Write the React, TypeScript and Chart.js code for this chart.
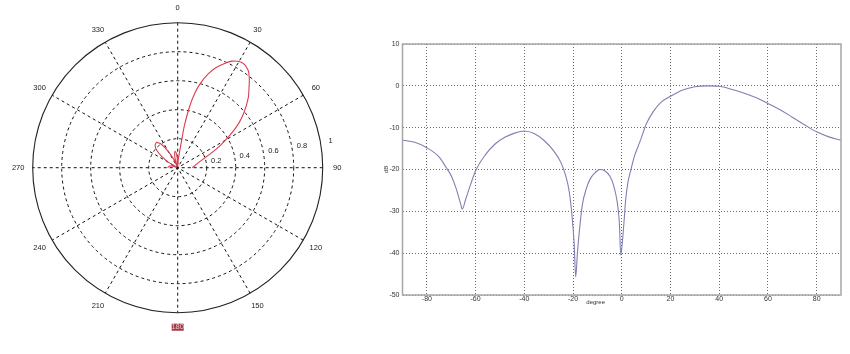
import React, { useEffect, useRef } from "react";
import { Chart, registerables } from "chart.js";

Chart.register(...registerables);

// ---------- Polar plot data (angle in degrees clockwise from top, linear radius) ----------
const polarAngles = [
  -90, -80, -72, -66, -60, -55, -50, -45, -40, -35, -30, -25, -20, -16, -12, -9, -6, -3, 0, 3, 5, 7, 9,
  11, 13, 15, 18, 21, 24, 27, 30, 33, 36, 39, 42, 45, 48, 51, 54, 57, 60, 63, 66, 70, 75, 80, 85, 90,
];
const polarRadii = [
  0.07, 0.06, 0.04, 0.01, 0.07, 0.135, 0.19, 0.22, 0.228, 0.2, 0.13, 0.06, 0.01, 0.07, 0.1, 0.115, 0.105, 0.07,
  0.01, 0.04, 0.07, 0.12, 0.29, 0.43, 0.53, 0.6, 0.68, 0.74, 0.785, 0.825, 0.845, 0.848, 0.828, 0.785, 0.735,
  0.69, 0.635, 0.58, 0.52, 0.45, 0.38, 0.32, 0.26, 0.2, 0.155, 0.13, 0.115, 0.1,
];
const polarRings = [0.2, 0.4, 0.6, 0.8, 1];
const polarRingLabels = ["0.2", "0.4", "0.6", "0.8", "1"];
const polarSpokeAngles = [0, 30, 60, 90, 120, 150, 180, 210, 240, 270, 300, 330];
const polarSpokeLabels = ["0", "30", "60", "90", "120", "150", "180", "210", "240", "270", "300", "330"];

// ---------- Rectangular plot data (degrees vs dB) ----------
const patternDegrees = [
  -90, -85, -80, -75, -72, -70, -68, -66, -65.5, -64, -62, -60, -56, -52, -48, -44, -40, -36, -32, -28, -25,
  -23, -21.5, -20.5, -19.5, -18.9, -18.2, -17.5, -16.2, -14.5, -13, -11, -9, -7, -5, -3.5, -2, -1, -0.4, 0.3, 1,
  1.6, 2.5, 3.7, 5, 6.5, 8, 10, 13, 16, 20, 25, 30, 35, 40, 45, 50, 55, 60, 65, 70, 75, 80, 85, 90,
];
const patternDb = [
  -13.0, -13.5, -14.8, -17.0, -19.6, -21.5, -24.5, -28.5, -29.5, -27.0, -23.5, -20.3, -16.5, -13.9, -12.3, -11.3,
  -10.8, -11.4, -13.0, -15.5, -18.3, -21.5, -25.5, -30.5, -38.0, -45.7, -40.0, -35.3, -28.5, -24.5, -22.3, -20.8,
  -20.0, -20.3, -21.5, -23.5, -27.3, -32.5, -40.5, -37.0, -32.0, -27.3, -23.2, -20.2, -17.2, -14.8, -12.5, -9.2,
  -6.1, -4.0, -2.5, -1.0, -0.2, 0.0, -0.1, -0.8, -1.7, -2.8, -4.2, -5.7, -7.5, -9.3, -11.0, -12.2, -13.0,
];
const xTicks = [-80, -60, -40, -20, 0, 20, 40, 60, 80];
const yTicks = [-50, -40, -30, -20, -10, 0, 10];
const xTitle = "degree";
const yTitle = "dB";

const FONT = "'Liberation Sans', Arial, sans-serif";

const polarGridPlugin = {
  id: "polarGrid",
  beforeDatasetsDraw(chart: any) {
    const ctx = chart.ctx;
    const xs = chart.scales.x;
    const ys = chart.scales.y;
    const px = (a: number, r: number) => xs.getPixelForValue(r * Math.sin((a * Math.PI) / 180));
    const py = (a: number, r: number) => ys.getPixelForValue(r * Math.cos((a * Math.PI) / 180));
    const cx = xs.getPixelForValue(0);
    const cy = ys.getPixelForValue(0);
    const R = xs.getPixelForValue(1) - cx;
    ctx.save();
    ctx.strokeStyle = "#111";
    ctx.lineWidth = 1;
    ctx.setLineDash([3, 3]);
    polarRings.forEach((r) => {
      if (r >= 1) return;
      ctx.beginPath();
      ctx.arc(cx, cy, R * r, 0, Math.PI * 2);
      ctx.stroke();
    });
    polarSpokeAngles.forEach((a) => {
      if (a >= 180) return;
      ctx.beginPath();
      ctx.moveTo(px(a, 1), py(a, 1));
      ctx.lineTo(px(a + 180, 1), py(a + 180, 1));
      ctx.stroke();
    });
    ctx.setLineDash([]);
    ctx.strokeStyle = "#222";
    ctx.lineWidth = 1.1;
    ctx.beginPath();
    ctx.arc(cx, cy, R, 0, Math.PI * 2);
    ctx.stroke();
    ctx.font = `7.5px ${FONT}`;
    ctx.textAlign = "center";
    ctx.textBaseline = "middle";
    polarSpokeAngles.forEach((a, i) => {
      const x = px(a, 1.1);
      const y = py(a, 1.1);
      if (polarSpokeLabels[i] === "180") {
        ctx.fillStyle = "#a4323f";
        ctx.fillRect(x - 6, y - 3.5, 12, 7);
        ctx.fillStyle = "#f0c8cc";
      } else {
        ctx.fillStyle = "#222";
      }
      ctx.fillText(polarSpokeLabels[i], x, y);
    });
    ctx.fillStyle = "#222";
    polarRings.forEach((r, i) => {
      ctx.fillText(polarRingLabels[i], px(80, r + 0.07), py(80, r + 0.07));
    });
    ctx.restore();
  },
};

const rectFramePlugin = {
  id: "rectFrame",
  afterDraw(chart: any) {
    const ctx = chart.ctx;
    const a = chart.chartArea;
    const xs = chart.scales.x;
    ctx.save();
    ctx.strokeStyle = "#a6a6a6";
    ctx.lineWidth = 1.5;
    ctx.strokeRect(a.left, a.top, a.right - a.left, a.bottom - a.top);
    ctx.fillStyle = "#333";
    ctx.font = `6px ${FONT}`;
    ctx.textAlign = "center";
    ctx.textBaseline = "middle";
    ctx.fillText(xTitle, xs.getPixelForValue(-10.7), a.bottom + 7);
    ctx.restore();
  },
};

function PolarChart() {
  const ref = useRef<HTMLCanvasElement>(null);
  useEffect(() => {
    const cxPix = 177.7;
    const cyPix = 167.7;
    const R = 145;
    const W = 355;
    const H = 354;
    const chart = new Chart(ref.current as HTMLCanvasElement, {
      type: "scatter",
      data: {
        datasets: [
          {
            data: polarAngles.map((a, i) => ({
              x: polarRadii[i] * Math.sin((a * Math.PI) / 180),
              y: polarRadii[i] * Math.cos((a * Math.PI) / 180),
            })),
            showLine: true,
            borderColor: "#dc3c4e",
            borderWidth: 1.1,
            pointRadius: 0,
            tension: 0.15,
            fill: false,
          },
        ],
      },
      options: {
        responsive: false,
        animation: false,
        devicePixelRatio: 1,
        layout: { padding: 0 },
        plugins: { legend: { display: false }, tooltip: { enabled: false } },
        scales: {
          x: { type: "linear", display: false, min: -cxPix / R, max: (W - cxPix) / R },
          y: { type: "linear", display: false, min: -(H - cyPix) / R, max: cyPix / R },
        },
      },
      plugins: [polarGridPlugin],
    });
    return () => chart.destroy();
  }, []);
  return (
    <canvas
      ref={ref}
      width={355}
      height={354}
      style={{ position: "absolute", left: 0, top: 0, width: 355, height: 354 }}
    />
  );
}

function RectChart() {
  const ref = useRef<HTMLCanvasElement>(null);
  useEffect(() => {
    const chart = new Chart(ref.current as HTMLCanvasElement, {
      type: "scatter",
      data: {
        datasets: [
          {
            data: patternDegrees.map((d, i) => ({ x: d, y: patternDb[i] })),
            showLine: true,
            borderColor: "#7f7fb3",
            borderWidth: 1.1,
            pointRadius: 0,
            cubicInterpolationMode: "monotone",
            fill: false,
          },
        ],
      },
      options: {
        responsive: false,
        animation: false,
        devicePixelRatio: 1,
        layout: { padding: { left: 0, top: 14, right: 9, bottom: 0 } },
        plugins: { legend: { display: false }, tooltip: { enabled: false } },
        scales: {
          x: {
            type: "linear",
            min: -90,
            max: 90,
            afterBuildTicks: (s: any) => {
              s.ticks = xTicks.map((v) => ({ value: v }));
            },
            afterFit: (s: any) => {
              s.height = 35;
            },
            grid: { color: "#6a6a6a", lineWidth: 1, drawTicks: false },
            border: { display: false, dash: [1, 2] },
            ticks: { padding: 0, font: { size: 7, family: FONT }, color: "#333", maxRotation: 0 },
          },
          y: {
            type: "linear",
            min: -50,
            max: 10,
            afterBuildTicks: (s: any) => {
              s.ticks = yTicks.map((v) => ({ value: v }));
            },
            afterFit: (s: any) => {
              s.width = 52.5;
            },
            grid: { color: "#6a6a6a", lineWidth: 1, drawTicks: false },
            border: { display: false, dash: [1, 2] },
            ticks: { padding: 3, font: { size: 7, family: FONT }, color: "#333" },
            title: {
              display: true,
              text: yTitle,
              font: { size: 6, family: FONT },
              color: "#333",
              padding: { top: 33, bottom: 0 },
            },
          },
        },
      },
      plugins: [rectFramePlugin],
    });
    return () => chart.destroy();
  }, []);
  return (
    <canvas
      ref={ref}
      width={500}
      height={300}
      style={{ position: "absolute", left: 350, top: 30, width: 500, height: 300 }}
    />
  );
}

export default function App() {
  return (
    <div
      style={{
        position: "fixed",
        left: 0,
        top: 0,
        width: 850,
        height: 354,
        background: "#ffffff",
        overflow: "hidden",
      }}
    >
      <PolarChart />
      <RectChart />
    </div>
  );
}
